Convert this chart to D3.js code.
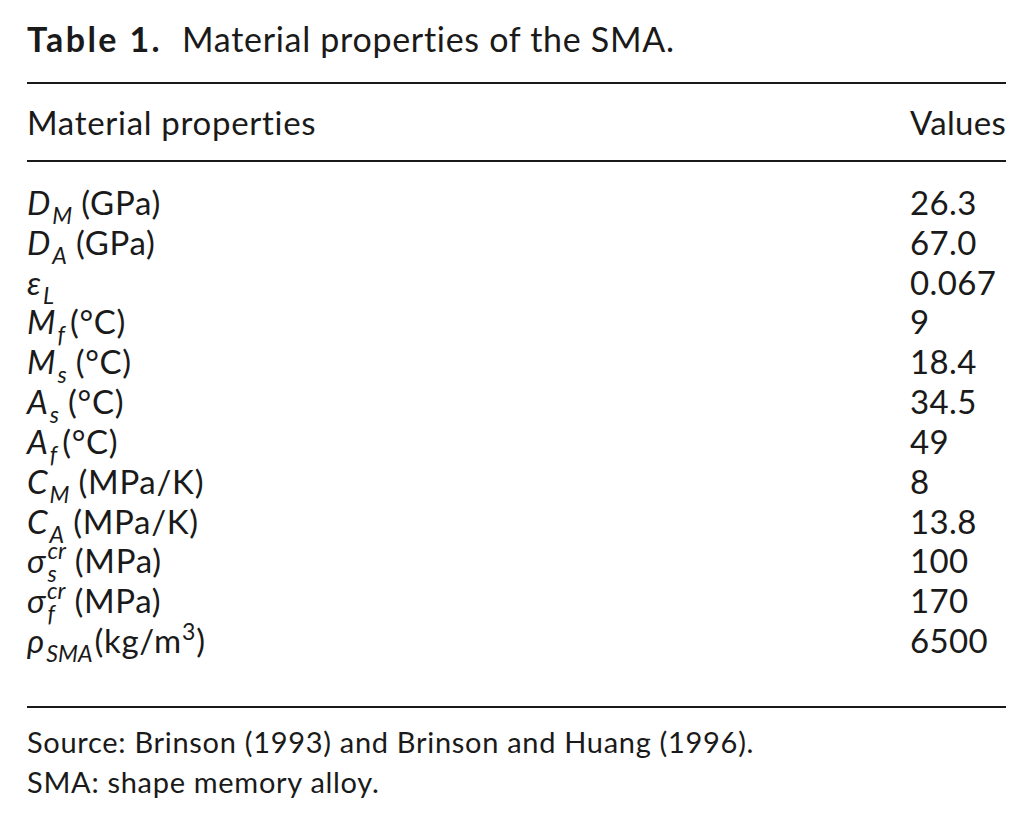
<!DOCTYPE html>
<html>
<head>
<meta charset="utf-8">
<script src="https://cdn.jsdelivr.net/npm/d3@7"></script>
<style>
  html, body { margin: 0; padding: 0; background: #fff; }
  text { font-family: Lato, "Open Sans", sans-serif; fill: #1a1a1a; }
</style>
</head>
<body>
<svg id="container" width="1032" height="829"></svg>
<script>
// table content
const titleLabel = "Table 1.";
const titleText = "Material properties of the SMA.";
const headers = ["Material properties", "Values"];

const symbols   = ["D", "D", "ε", "M", "M", "A", "A", "C", "C", "σ", "σ", "ρ"];
const subs      = ["M", "A", "L", "f", "s", "s", "f", "M", "A", "s", "f", "SMA"];
const sups      = ["", "", "", "", "", "", "", "", "", "cr", "cr", ""];
const units     = ["(GPa)", "(GPa)", "", "(°C)", "(°C)", "(°C)", "(°C)", "(MPa/K)", "(MPa/K)", "(MPa)", "(MPa)", "(kg/m³)"];
const values    = ["26.3", "67.0", "0.067", "9", "18.4", "34.5", "49", "8", "13.8", "100", "170", "6500"];

const notes = [
  "Source: Brinson (1993) and Brinson and Huang (1996).",
  "SMA: shape memory alloy."
];

const svg = d3.select('#container');
const left = 27, right = 1006;
const fs = 33, ls = '0.7px';
const small = fs * 0.7;

// title
const title = svg.append('text')
    .attr('x', left).attr('y', 52)
    .style('font-size', '34px');
title.append('tspan')
    .attr('font-weight', 'bold')
    .style('letter-spacing', '2.4px')
    .text(titleLabel);
title.append('tspan')
    .attr('dx', 20)
    .style('letter-spacing', ls)
    .text(titleText);

// rules
const rules = [83, 161, 707];
svg.selectAll('line.rule')
    .data(rules)
    .enter()
    .append('line')
    .attr('class', 'rule')
    .attr('x1', left).attr('x2', right)
    .attr('y1', d => d).attr('y2', d => d)
    .attr('stroke', '#1a1a1a')
    .attr('stroke-width', 2);

// header
svg.append('text')
    .attr('x', left).attr('y', 135)
    .style('font-size', fs + 'px')
    .style('letter-spacing', ls)
    .text(headers[0]);
svg.append('text')
    .attr('x', right).attr('y', 135)
    .attr('text-anchor', 'end')
    .style('font-size', fs + 'px')
    .style('letter-spacing', '0.3px')
    .text(headers[1]);

// width of a small italic string
function measure(str) {
    const t = svg.append('text')
        .style('font-size', small + 'px')
        .style('font-style', 'italic')
        .text(str);
    const w = t.node().getComputedTextLength();
    t.remove();
    return w;
}

// rows
const idx = d3.range(symbols.length);
const y = d3.scalePoint().domain(idx).range([215, 653]);
const valX = 910;

idx.forEach(i => {
    const t = svg.append('text')
        .attr('x', left).attr('y', y(i))
        .style('font-size', fs + 'px');
    t.append('tspan')
        .style('font-style', 'italic')
        .text(symbols[i]);
    const sw = measure(subs[i]);
    t.append('tspan')
        .attr('dx', 2).attr('dy', 9)
        .style('font-size', small + 'px')
        .style('font-style', 'italic')
        .text(subs[i]);
    let dyBack = -9, extra = 0;
    if (sups[i]) {
        const pw = measure(sups[i]);
        t.append('tspan')
            .attr('dx', -sw).attr('dy', -23)
            .style('font-size', small + 'px')
            .style('font-style', 'italic')
            .text(sups[i]);
        dyBack = 14;
        extra = Math.max(0, sw - pw);
    }
    if (units[i]) {
        const gap = (i === 11) ? 2 : (i === 3 || i === 6) ? 5 : 9;
        const parts = units[i].split('³');
        t.append('tspan')
            .attr('dx', gap + extra).attr('dy', dyBack)
            .style('letter-spacing', ls)
            .text(parts[0]);
        if (parts.length > 1) {
            t.append('tspan')
                .attr('dy', -13)
                .style('font-size', small + 'px')
                .text('3');
            t.append('tspan')
                .attr('dx', 1).attr('dy', 13)
                .text(parts[1]);
        }
    }
    svg.append('text')
        .attr('x', valX).attr('y', y(i))
        .style('font-size', fs + 'px')
        .style('letter-spacing', '0.4px')
        .text(values[i]);
});

// footnotes
svg.selectAll('text.note')
    .data(notes)
    .enter()
    .append('text')
    .attr('class', 'note')
    .attr('x', left)
    .attr('y', (d, i) => 753 + i * 40)
    .style('font-size', '29px')
    .style('letter-spacing', '0.7px')
    .text(d => d);
</script>
</body>
</html>
